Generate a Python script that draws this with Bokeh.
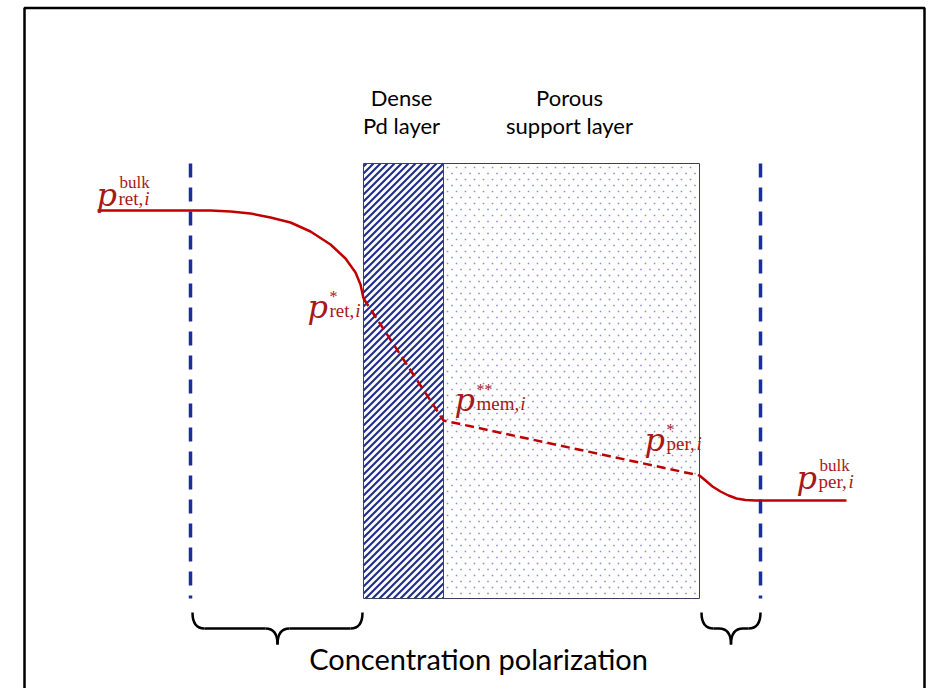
import numpy as np
from bokeh.plotting import figure
from bokeh.models import Range1d
from bokeh.core.properties import value
from bokeh.embed import file_html
from bokeh.resources import INLINE

# ---- data (page-pixel coordinate system of the schematic) ----
layer_names = ["Dense Pd layer", "Porous support layer"]
layer_left = [363, 443]
layer_right = [443, 699]
layer_top = 163
layer_bottom = 598

# texture spacing of the two layers
stripe_step = 7
dot_dx, dot_dy = 9, 6

# boundary-layer (concentration polarization) limits
bl_x = [190, 760]

# partial-pressure profile
ret_x = [97, 210, 230, 250, 270, 290, 310, 330, 345, 355, 360, 363]
ret_y = [210, 210, 211, 213, 217, 222, 231, 244, 258, 272, 284, 298]
mem_x = [363, 443, 699]
mem_y = [298, 420, 475]
per_x = [699, 705, 712, 720, 728, 736, 745, 755, 846]
per_y = [475, 480, 486, 491, 495, 498, 499.5, 500, 500]

# math labels: (x of "p", baseline y, superscript, subscript)
lab_x = [96, 307, 454, 644, 796]
lab_y = [194, 306, 399, 439, 477]
lab_sup = ["bulk", "*", "**", "*", "bulk"]
lab_sub = ["ret", "ret", "mem", "per", "per"]

# header labels
head_x = [401, 569]
head_line1 = ["Dense", "Porous"]
head_line2 = ["Pd layer", "support layer"]
head_y1 = 97
head_y2 = 125

# braces: (left end, right end)
brace_l = [192, 701]
brace_r = [362, 760]
brace_top = 612
brace_mid = 628
brace_tip = 644

footer = "Concentration polarization"

W, H = 928, 688
p = figure(width=W, height=H, output_backend="svg", toolbar_location=None,
           x_range=Range1d(0, W), y_range=Range1d(H, 0),
           min_border=0, outline_line_color=None)
p.axis.visible = False
p.grid.visible = False
p.background_fill_color = "white"

# outer frame
p.line(x=[24, 24, 924, 924], y=[700, 7.5, 7.5, 700], line_color="black", line_width=2.5)

RED = "#c00000"
LRED = "#a81818"
BLUE = "#1c2e9e"

# Dense Pd layer: diagonal stripes clipped to the layer
L, R, T, B = layer_left[0], layer_right[0], layer_top, layer_bottom
cs = np.arange(L + T + 3, R + B, stripe_step)
x0 = np.maximum(L, cs - B)
x1 = np.minimum(R, cs - T)
p.segment(x0=x0, y0=cs - x0, x1=x1, y1=cs - x1, line_color="#1f2d8a", line_width=2.1)

# Porous support layer: fine staggered dots
L2, R2 = layer_left[1], layer_right[1]
ys = np.arange(T + 4, B - 2, dot_dy)
dx_list, dy_list = [], []
for k, yy in enumerate(ys):
    xs = np.arange(L2 + 4 + (dot_dx / 2 if k % 2 else 0), R2 - 2, dot_dx)
    dx_list.extend(xs)
    dy_list.extend([yy] * len(xs))
p.scatter(x=dx_list, y=dy_list, marker="square", size=1.6, fill_color="#8a92c8",
          line_color=None)

# layer outlines
p.quad(left=layer_left, right=layer_right, top=[T, T], bottom=[B, B],
       fill_color=None, line_color="#3a4060", line_width=1)

# boundary-layer dashed lines
for bx in bl_x:
    p.line(x=[bx, bx], y=[layer_top, layer_bottom], line_color=BLUE, line_width=3.5,
           line_dash="14 10")

# profile
p.line(x=ret_x, y=ret_y, line_color=RED, line_width=2.5)
p.line(x=mem_x, y=mem_y, line_color=RED, line_width=2.5, line_dash="9 5")
p.line(x=per_x, y=per_y, line_color=RED, line_width=2.5)

# math labels
serif = value("Liberation Serif")
pserif = value("DejaVu Serif")
SUB = 19
adv = {"r": 0.333, "e": 0.444, "t": 0.278, ",": 0.25, "m": 0.778, "p": 0.5}
for lx, ly, sup, sub in zip(lab_x, lab_y, lab_sup, lab_sub):
    p.text(x=[lx], y=[ly], text=["p"], text_font=pserif, text_font_style="italic",
           text_font_size="32px", text_color=LRED, text_baseline="alphabetic", text_align="left")
    sx = lx + 22
    if sup == "bulk":
        p.text(x=[sx + 1], y=[ly - 12], text=[sup], text_font=serif, text_font_size="17px",
               text_color=LRED, text_baseline="alphabetic", text_align="left")
    else:
        p.text(x=[sx], y=[ly - 10], text=[sup], text_font=serif, text_font_size="16px",
               text_color=LRED, text_baseline="alphabetic", text_align="left")
    txt = sub + ","
    p.text(x=[sx], y=[ly + 4], text=[txt], text_font=serif, text_font_size=f"{SUB}px",
           text_color=LRED, text_baseline="alphabetic", text_align="left")
    w = sum(adv[c] for c in txt) * SUB
    p.text(x=[sx + w + 1], y=[ly + 4], text=["i"], text_font=serif, text_font_style="italic",
           text_font_size=f"{SUB}px", text_color=LRED, text_baseline="alphabetic", text_align="left")

# headers
sans = value("Lato")
p.text(x=head_x, y=[head_y1] * 2, text=head_line1, text_font=sans, text_font_size="22px",
       text_color="black", text_align="center", text_baseline="middle")
p.text(x=head_x, y=[head_y2] * 2, text=head_line2, text_font=sans, text_font_size="22px",
       text_color="black", text_align="center", text_baseline="middle")

# braces
for bl, br in zip(brace_l, brace_r):
    tip = (bl + br) / 2
    r = 12
    p.quadratic(x0=[bl, tip - r, tip, br - r], y0=[brace_top, brace_mid, brace_tip, brace_mid],
                x1=[bl + r, tip, tip + r, br], y1=[brace_mid, brace_tip, brace_mid, brace_top],
                cx=[bl, tip, tip, br], cy=[brace_mid, brace_mid, brace_mid, brace_mid],
                line_color="black", line_width=2.5)
    p.segment(x0=[bl + r, tip + r], y0=[brace_mid] * 2, x1=[tip - r, br - r], y1=[brace_mid] * 2,
              line_color="black", line_width=2.5)

p.text(x=[478], y=[658], text=[footer], text_font=sans, text_font_size="29px",
       text_color="black", text_align="center", text_baseline="middle")

open("out.html", "w").write(file_html(p, INLINE))
